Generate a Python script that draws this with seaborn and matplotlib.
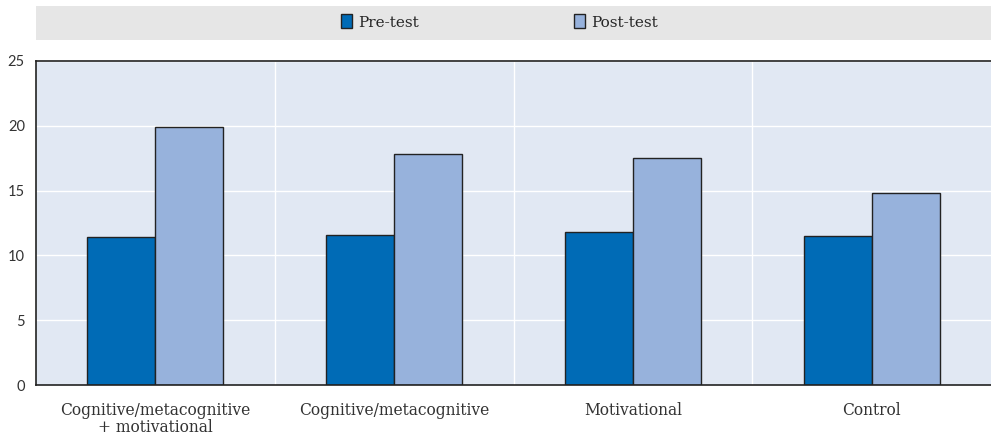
import pandas as pd
import matplotlib.pyplot as plt
import seaborn as sns
from matplotlib.patches import Rectangle, Patch
from matplotlib.ticker import FixedLocator

# Data
groups = ['Cognitive/metacognitive\n+ motivational', 'Cognitive/metacognitive',
          'Motivational', 'Control']
pre_test = [11.4, 11.6, 11.8, 11.5]
post_test = [19.9, 17.8, 17.5, 14.8]
series = ['Pre-test', 'Post-test']
colors = ['#006bb6', '#97b2dc']

df = pd.DataFrame({
    'Group': groups * 2,
    'Test': ['Pre-test'] * 4 + ['Post-test'] * 4,
    'Score': pre_test + post_test,
})

sns.set_style('white')
plt.rcParams['font.family'] = ['Lato', 'DejaVu Sans']

fig = plt.figure(figsize=(9.91, 4.36), dpi=100)
ax = fig.add_axes([36 / 991, 51 / 436, 955 / 991, 324 / 436])
ax.set_facecolor('#e1e8f3')

sns.barplot(data=df, x='Group', y='Score', hue='Test', hue_order=series,
            palette=colors, width=0.57, edgecolor='#222222', linewidth=1,
            saturation=1, ax=ax, legend=False)

ax.set_ylim(0, 25)
ax.set_xlim(-0.5, 3.5)
ax.set_yticks([0, 5, 10, 15, 20, 25])
ax.set_xlabel('')
ax.set_ylabel('')

ax.yaxis.grid(True, color='white', linewidth=1)
ax.xaxis.set_minor_locator(FixedLocator([0.5, 1.5, 2.5]))
ax.xaxis.grid(True, which='minor', color='white', linewidth=1)
ax.set_axisbelow(True)

ax.tick_params(axis='x', which='major', length=0, pad=12)
ax.tick_params(axis='x', which='minor', direction='in', length=4, width=1, color='#222222')
ax.tick_params(axis='y', which='major', direction='out', length=4, width=1,
               color='#222222', labelsize=10.5, labelcolor='#333333', pad=4)
for lbl in ax.get_xticklabels():
    lbl.set_family(['DejaVu Serif'])
    lbl.set_fontsize(11.2)
    lbl.set_color('#333333')
    lbl.set_linespacing(1.05)

for side in ['top', 'left', 'bottom']:
    ax.spines[side].set_visible(True)
    ax.spines[side].set_color('#222222')
    ax.spines[side].set_linewidth(1.2)
ax.spines['right'].set_visible(False)

# Legend band
fig.patches.append(Rectangle((36 / 991, 1 - 40 / 436), 955 / 991, 34 / 436,
                             transform=fig.transFigure, facecolor='#e6e6e6',
                             edgecolor='none', zorder=0))
handles = [Patch(facecolor=c, edgecolor='#222222', linewidth=1) for c in colors]
fig.legend(handles, series, loc='center', bbox_to_anchor=(0.504, 1 - 22 / 436),
           ncol=2, frameon=False, handlelength=0.7, handleheight=1.0,
           handletextpad=0.4, columnspacing=10.2,
           prop={'family': 'DejaVu Serif', 'size': 11})

plt.savefig('out.png', dpi=100)
